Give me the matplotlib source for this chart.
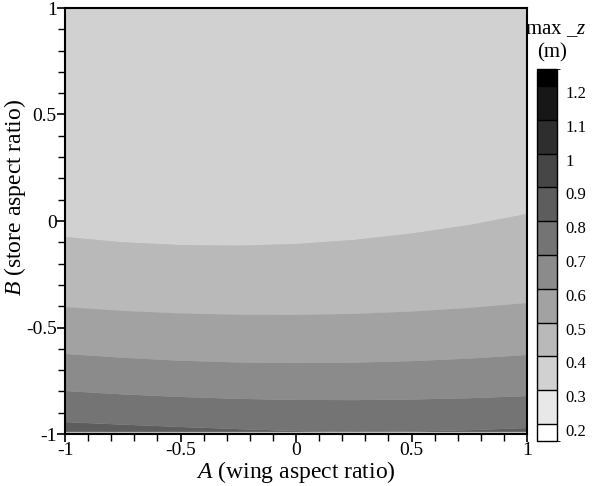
import numpy as np
import matplotlib
matplotlib.use("Agg")
import matplotlib.pyplot as plt
from matplotlib.colors import ListedColormap, BoundaryNorm
from matplotlib.cm import ScalarMappable

plt.rcParams['font.family'] = ['Liberation Serif', 'DejaVu Serif']
plt.rcParams['mathtext.fontset'] = 'custom'
plt.rcParams['mathtext.it'] = 'Liberation Serif:italic'
plt.rcParams['mathtext.rm'] = 'Liberation Serif'

# ---- data ----
A_pts = [-1.0, -0.75, -0.5, -0.25, 0.0, 0.25, 0.5, 0.75, 1.0]
# B position of each contour level across A
contour_levels = [0.4, 0.5, 0.6, 0.7, 0.8]
B_at_04 = [-0.075, -0.100, -0.113, -0.116, -0.108, -0.089, -0.059, -0.019, 0.033]
B_at_05 = [-0.404, -0.422, -0.434, -0.440, -0.441, -0.436, -0.425, -0.408, -0.385]
B_at_06 = [-0.624, -0.642, -0.656, -0.664, -0.667, -0.665, -0.658, -0.646, -0.629]
B_at_07 = [-0.798, -0.814, -0.826, -0.835, -0.840, -0.841, -0.838, -0.832, -0.822]
B_at_08 = [-0.944, -0.956, -0.967, -0.977, -0.986, -0.990, -0.988, -0.982, -0.972]
B_top = 1.0
B_bottom = -0.99
cbar_bounds = [0.15, 0.2, 0.3, 0.4, 0.5, 0.6, 0.7, 0.8, 0.9, 1.0, 1.1, 1.2, 1.25]
cbar_ticks = [0.2, 0.3, 0.4, 0.5, 0.6, 0.7, 0.8, 0.9, 1.0, 1.1, 1.2]
cbar_ticklabels = ['0.2', '0.3', '0.4', '0.5', '0.6', '0.7', '0.8', '0.9', '1', '1.1', '1.2']
xy_ticks = [-1, -0.5, 0, 0.5, 1]
xy_ticklabels = ['-1', '-0.5', '0', '0.5', '1']

# ---- style ----
n = len(cbar_bounds) - 1
grays = [str(1 - i / (n - 1)) for i in range(n)]
cmap = ListedColormap(grays)
norm = BoundaryNorm(cbar_bounds, cmap.N)

fig = plt.figure(figsize=(5.94, 4.86), dpi=100)
ax = fig.add_axes([65/594, 1 - 434/486, 462/594, 426/486])
ax.set_facecolor('#c2c2c2')

A = np.array(A_pts)
bounds_list = [np.full_like(A, B_top), np.array(B_at_04), np.array(B_at_05),
               np.array(B_at_06), np.array(B_at_07), np.array(B_at_08),
               np.full_like(A, B_bottom)]
band_mids = [0.35, 0.45, 0.55, 0.65, 0.75, 0.85]
for i, mid in enumerate(band_mids):
    upper = bounds_list[i]
    lower = np.maximum(bounds_list[i + 1], B_bottom)
    ax.fill_between(A, lower, upper, facecolor=cmap(norm(mid)), edgecolor='none', linewidth=0)

ax.set_xlim(-1, 1)
ax.set_ylim(-1, 1)
ax.set_xticks(xy_ticks)
ax.set_xticklabels(xy_ticklabels)
ax.set_yticks(xy_ticks)
ax.set_yticklabels(xy_ticklabels)
ax.set_xticks(np.arange(-1, 1.001, 0.1), minor=True)
ax.set_yticks(np.arange(-1, 1.001, 0.1), minor=True)
ax.tick_params(which='both', direction='out', length=6, width=1.2, labelsize=14, pad=0)
ax.tick_params(which='minor', length=5, width=1.0)
for s in ax.spines.values():
    s.set_linewidth(1.5)
ax.set_xlabel(r'$A$ (wing aspect ratio)', fontsize=17, labelpad=0)
ax.set_ylabel(r'$B$ (store aspect ratio)', fontsize=17)
ax.yaxis.set_label_coords(-37/462, 0.556)

cax = fig.add_axes([537/594, 1 - 441/486, 20/594, 372/486])
sm = ScalarMappable(norm=norm, cmap=cmap)
cb = fig.colorbar(sm, cax=cax, boundaries=cbar_bounds, ticks=cbar_ticks,
                  spacing='proportional', drawedges=True)
cb.set_ticklabels(cbar_ticklabels)
cb.ax.tick_params(length=0, labelsize=12, pad=6)
for lab in cb.ax.get_yticklabels():
    lab.set_verticalalignment('top')
cb.outline.set_linewidth(1.0)
cb.dividers.set_linewidth(1.0)
cb.dividers.set_color('black')
fig.text(556/594, 1 - 30/486, r'max _$z$', ha='center', va='center', fontsize=15)
fig.text(552/594, 1 - 53/486, '(m)', ha='center', va='center', fontsize=15)

fig.savefig('out.png', dpi=100)
